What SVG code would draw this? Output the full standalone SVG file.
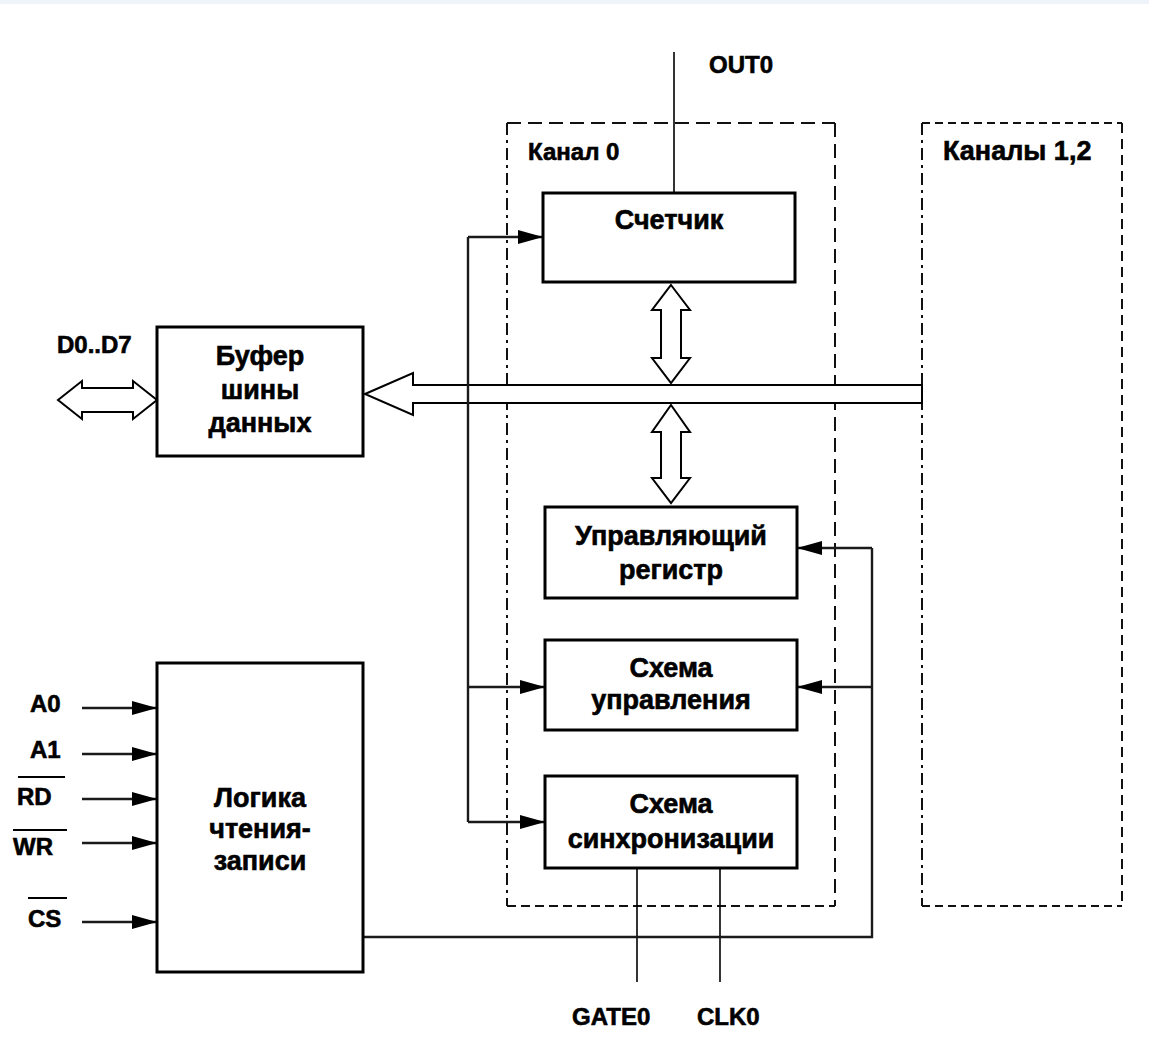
<svg xmlns="http://www.w3.org/2000/svg" width="1149" height="1041" viewBox="0 0 1149 1041">
<style>
  .t{font-family:"Liberation Sans",Arial,sans-serif;font-weight:bold;fill:#000;stroke:#000;stroke-width:0.6}
  .lbl{font-size:24px}
  .nt{font-size:27px;text-anchor:middle}
  .box{fill:#fff;stroke:#000;stroke-width:3}
  .wire{fill:none;stroke:#1a1a1a;stroke-width:2.4}
  .thin{fill:none;stroke:#000;stroke-width:1.6}
  .hollow{fill:#fff;stroke:#000;stroke-width:2;stroke-linejoin:miter}
  .frame{fill:none;stroke:#111;stroke-width:2}
</style>
<defs>
  <marker id="ah" markerUnits="userSpaceOnUse" markerWidth="26" markerHeight="14" refX="25" refY="7" orient="auto">
    <path d="M0,0 L25,7 L0,14 Z" fill="#000"/>
  </marker>
</defs>
<rect x="0" y="0" width="1149" height="1041" fill="#fff"/>
<rect x="0" y="0" width="1149" height="4" fill="#eef4f9"/>

<g id="channel0-frame">
  <line class="frame" x1="507" y1="123" x2="835" y2="123" stroke-dasharray="14 7"/>
  <line class="frame" x1="835" y1="123" x2="835" y2="906" stroke-dasharray="14 7"/>
  <line class="frame" x1="507" y1="906" x2="835" y2="906" stroke-dasharray="9 5"/>
  <line class="frame" x1="507" y1="123" x2="507" y2="906" stroke-dasharray="12 5 3 5"/>
  <text class="t" x="528" y="160" style="font-size:24px">Канал 0</text>
</g>

<g id="channels12-frame">
  <line class="frame" x1="922" y1="123" x2="1122" y2="123" stroke-dasharray="8 5"/>
  <line class="frame" x1="1122" y1="123" x2="1122" y2="906" stroke-dasharray="10 6"/>
  <line class="frame" x1="922" y1="906" x2="1122" y2="906" stroke-dasharray="8 5"/>
  <line class="frame" x1="922" y1="123" x2="922" y2="906" stroke-dasharray="12 5 3 5"/>
  <text class="t" x="943" y="160" style="font-size:27px">Каналы 1,2</text>
</g>

<g id="connectors">
  <line class="thin" x1="674" y1="52" x2="674" y2="193"/>
  <line class="thin" x1="637" y1="868" x2="637" y2="982"/>
  <line class="thin" x1="720" y1="868" x2="720" y2="982"/>
  <path class="hollow" d="M365,394 L413,373 L413,385 L922,385 L922,403 L413,403 L413,415 Z"/>
  <path class="hollow" d="M58,400 L82,381 L82,388 L133,388 L133,381 L157,400 L133,419 L133,412 L82,412 L82,419 Z"/>
  <path class="hollow" d="M671,285 L690,310 L681,310 L681,358 L690,358 L671,383 L652,358 L661,358 L661,310 L652,310 Z"/>
  <path class="hollow" d="M671,405 L690,432 L681,432 L681,478 L690,478 L671,503 L652,478 L661,478 L661,432 L652,432 Z"/>
  <line class="wire" x1="468" y1="237" x2="468" y2="822"/>
  <line class="wire" x1="468" y1="237" x2="543" y2="237" marker-end="url(#ah)"/>
  <line class="wire" x1="468" y1="687" x2="545" y2="687" marker-end="url(#ah)"/>
  <line class="wire" x1="468" y1="822" x2="545" y2="822" marker-end="url(#ah)"/>
  <path class="wire" d="M363,937 H872 V548"/>
  <line class="wire" x1="872" y1="548" x2="797" y2="548" marker-end="url(#ah)"/>
  <line class="wire" x1="872" y1="687" x2="797" y2="687" marker-end="url(#ah)"/>
  <line class="wire" x1="82" y1="708" x2="157" y2="708" marker-end="url(#ah)"/>
  <line class="wire" x1="82" y1="754" x2="157" y2="754" marker-end="url(#ah)"/>
  <line class="wire" x1="82" y1="799" x2="157" y2="799" marker-end="url(#ah)"/>
  <line class="wire" x1="82" y1="843" x2="157" y2="843" marker-end="url(#ah)"/>
  <line class="wire" x1="82" y1="922" x2="157" y2="922" marker-end="url(#ah)"/>
</g>

<g id="counter">
  <rect class="box" x="543" y="193" width="252" height="89"/>
  <text class="t nt" x="669" y="229">Счетчик</text>
</g>

<g id="control-register">
  <rect class="box" x="545" y="507" width="252" height="91"/>
  <text class="t nt" x="671" y="545">Управляющий</text>
  <text class="t nt" x="671" y="579">регистр</text>
</g>

<g id="control-scheme">
  <rect class="box" x="545" y="640" width="252" height="90"/>
  <text class="t nt" x="671" y="677">Схема</text>
  <text class="t nt" x="671" y="709">управления</text>
</g>

<g id="sync-scheme">
  <rect class="box" x="545" y="776" width="252" height="92"/>
  <text class="t nt" x="671" y="813">Схема</text>
  <text class="t nt" x="671" y="848">синхронизации</text>
</g>

<g id="data-buffer">
  <rect class="box" x="157" y="327" width="206" height="129"/>
  <text class="t nt" x="260" y="365">Буфер</text>
  <text class="t nt" x="260" y="399">шины</text>
  <text class="t nt" x="260" y="432">данных</text>
</g>

<g id="rw-logic">
  <rect class="box" x="157" y="663" width="206" height="309"/>
  <text class="t nt" x="260" y="807">Логика</text>
  <text class="t nt" x="260" y="838">чтения-</text>
  <text class="t nt" x="260" y="870">записи</text>
</g>

<g id="labels">
  <text class="t lbl" x="709" y="73">OUT0</text>
  <text class="t lbl" x="57" y="353">D0..D7</text>
  <text class="t lbl" x="30" y="712">A0</text>
  <text class="t lbl" x="30" y="758">A1</text>
  <text class="t lbl" x="17" y="805">RD</text>
  <line x1="18" y1="777" x2="65" y2="777" stroke="#000" stroke-width="2"/>
  <text class="t lbl" x="13" y="855">WR</text>
  <line x1="13" y1="830" x2="67" y2="830" stroke="#000" stroke-width="2"/>
  <text class="t lbl" x="28" y="927">CS</text>
  <line x1="28" y1="898" x2="67" y2="898" stroke="#000" stroke-width="2"/>
  <text class="t lbl" x="572" y="1025">GATE0</text>
  <text class="t lbl" x="697" y="1025">CLK0</text>
</g>
</svg>
